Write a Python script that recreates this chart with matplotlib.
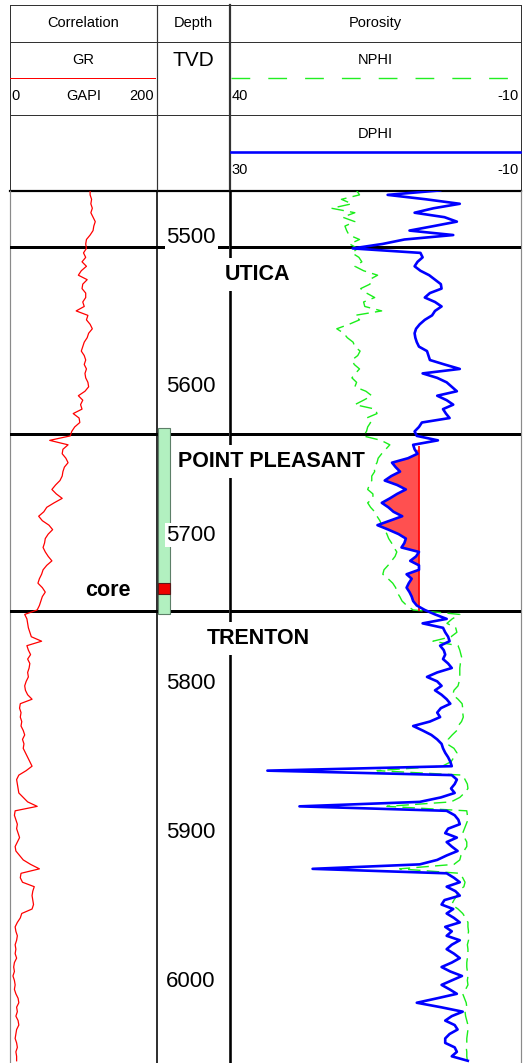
import numpy as np
import matplotlib
matplotlib.use("Agg")
import matplotlib.pyplot as plt
from matplotlib.patches import Rectangle
from matplotlib.transforms import blended_transform_factory as blend

plt.rcParams['font.family'] = ['Liberation Sans', 'DejaVu Sans']

# ---------------------------------------------------------------- data
# log samples every 3 ft (TVD)
depth = np.arange(5470, 6056, 3)

gr = np.array([
    109, 109, 111, 110, 112, 110, 113, 116, 114, 113,
    109, 104, 103, 104, 100, 103, 98, 104, 97, 93,
    105, 99, 98, 103, 103, 99, 101, 90, 106, 104,
    109, 112, 107, 105, 101, 99, 97, 101, 103, 101,
    104, 102, 103, 106, 107, 102, 93, 99, 96, 98,
    86, 94, 95, 88, 84, 82, 54, 79, 72, 71,
    76, 79, 74, 72, 71, 68, 62, 57, 63, 71,
    60, 50, 46, 39, 44, 53, 58, 52, 48, 47,
    45, 48, 52, 57, 50, 45, 43, 40, 38, 44,
    48, 44, 42, 40, 37, 20, 23, 24, 25, 27,
    29, 43, 23, 25, 28, 24, 27, 26, 24, 25,
    22, 20, 21, 24, 30, 14, 13, 15, 14, 16,
    15, 18, 20, 17, 19, 18, 21, 24, 27, 30,
    22, 12, 9, 10, 11, 12, 18, 24, 37, 7,
    6, 8, 10, 9, 11, 13, 10, 7, 8, 13,
    18, 28, 40, 15, 14, 17, 33, 31, 30, 31,
    32, 30, 16, 14, 10, 7, 8, 10, 9, 7,
    8, 7, 9, 6, 5, 6, 4, 6, 7, 6,
    8, 11, 12, 9, 10, 8, 11, 12, 9, 8,
    7, 9, 10, 8, 9, 9,
])

nphi = np.array([
    18.2, 17.7, 20.8, 19.0, 22.5, 18.5, 20.6, 18.5, 20.2, 19.9,
    19.5, 17.7, 19.4, 18.0, 19.0, 17.8, 17.3, 18.5, 17.0, 14.6,
    16.0, 15.9, 17.5, 16.5, 15.1, 17.0, 16.8, 13.9, 18.5, 17.7,
    19.5, 21.6, 20.4, 19.8, 18.8, 18.5, 17.6, 18.0, 19.0, 18.6,
    17.7, 18.4, 19.0, 18.2, 18.5, 16.6, 15.6, 17.0, 18.5, 15.0,
    14.7, 16.5, 15.8, 16.3, 16.5, 17.1, 14.0, 12.5, 13.2, 13.9,
    14.5, 14.7, 15.2, 15.1, 15.6, 15.6, 16.0, 16.3, 15.4, 15.4,
    16.3, 15.8, 15.1, 14.7, 14.2, 13.9, 13.4, 13.0, 12.7, 12.2,
    11.8, 11.3, 11.6, 12.2, 12.8, 13.5, 13.7, 12.8, 12.0, 11.5,
    11.3, 10.8, 10.4, 9.6, 8.5, 0.5, 1.8, 2.7, 1.2, 1.0,
    2.0, 5.1, 0.8, 0.5, 0.3, 0.1, 0.4, 0.5, 0.5, 0.5,
    0.6, 0.8, 1.5, 1.7, 0.8, 0.1, 0.0, 0.0, -0.1, 0.2,
    0.8, 1.0, 1.8, 2.5, 2.7, 1.5, 1.0, 1.5, 2.0, 3.5,
    14.7, 0.0, -0.4, -0.8, -0.9, -0.3, 0.5, 2.0, 13.0, -0.7,
    -0.8, -0.9, -0.6, -0.3, 0.0, -0.3, -0.7, -0.7, -0.2, 0.3,
    0.5, 1.5, 10.8, 0.5, 0.0, -0.4, -0.2, 0.8, 1.0, 1.5,
    1.9, 0.8, 0.0, -0.5, -0.9, -0.9, -1.0, -0.9, -1.0, -0.8,
    -0.9, -0.9, -0.8, -0.7, -0.7, -0.8, -0.9, -0.8, -0.9, -0.5,
    0.0, -0.3, -0.6, -0.7, -0.4, -0.5, -0.7, -0.9, -0.9, -0.8,
    -0.7, -0.7, -0.6, -0.7, -0.7, -0.8,
])

dphi = np.array([
    1.1, 8.3, 3.0, -1.6, 2.0, 4.6, 0.5, -1.2, 2.0, 5.3,
    -0.7, 6.0, 9.0, 13.1, 3.8, 3.5, 4.2, 4.6, 3.8, 2.6,
    1.8, 1.0, 0.9, 2.5, 3.2, 1.8, 0.9, 1.8, 2.2, 3.2,
    3.9, 4.4, 4.6, 4.5, 4.3, 4.0, 2.9, 2.7, 2.5, 0.5,
    -1.6, 3.5, 1.5, 0.2, -0.5, -1.2, 1.5, 0.2, -0.7, 0.7,
    0.3, -0.2, 3.6, 4.0, 4.6, 4.3, 1.4, 4.8, 4.6, 4.2,
    5.5, 7.7, 7.2, 6.6, 7.8, 8.7, 7.0, 5.8, 7.0, 8.0,
    9.1, 8.2, 7.5, 6.3, 8.0, 9.7, 8.2, 6.8, 5.8, 6.0,
    6.4, 4.0, 4.4, 5.2, 4.0, 4.0, 5.7, 5.0, 5.4, 5.7,
    5.3, 5.0, 4.8, 4.3, 3.2, 1.8, 0.2, 3.5, 0.7, 0.4,
    0.0, -0.2, 1.1, 0.6, 0.4, 0.7, 0.0, -0.5, 1.5, 2.9,
    1.5, 0.9, 1.8, 0.9, 0.2, -0.3, 1.0, 1.5, 1.1, 2.5,
    4.8, 3.5, 2.3, 1.5, 0.9, 0.7, 0.4, 0.0, -0.3, -0.5,
    24.8, -0.5, -1.2, -0.9, -0.4, -0.9, 1.0, 3.9, 20.4, 0.2,
    -0.9, -1.4, -1.6, 0.0, 0.4, -1.2, 0.2, -0.5, -1.3, 0.2,
    1.5, 3.9, 18.6, 0.2, -0.8, -1.6, 0.2, -1.0, -1.6, 0.5,
    0.9, -0.7, 0.2, -0.8, -1.6, 0.4, -0.5, 0.2, -1.6, -0.5,
    0.2, -0.8, -1.6, -0.5, 0.9, -0.3, -1.9, -0.5, 0.9, -0.2,
    -1.2, 1.5, 4.3, 1.0, -2.0, -0.5, 0.4, -0.9, -1.3, -0.2,
    0.4, 0.4, -0.9, -1.2, -0.5, -2.7,
])

tops_names = ['UTICA', 'POINT PLEASANT', 'TRENTON']
tops_depth = [5508, 5634, 5753]
depth_labels = [5500, 5600, 5700, 5800, 5900, 6000]
core_interval = (5630, 5755)
core_sample = (5734, 5741)
pay_interval = (5642, 5753)
dphi_cutoff = 4.0

gr_scale = (0, 200)
nphi_scale = (40, -10)
dphi_scale = (30, -10)
depth_window = (6056.5, 5470.2)

# ---------------------------------------------------------------- layout (pixels)
W, H = 531, 1063
X_L, X_GR, X_DEP, X_R = 10, 157, 229.5, 521
Y_TOP, Y_R1, Y_R2, Y_LOG = 5, 41.7, 115, 190.7
PT = 0.72  # points per pixel at 100 dpi

fig = plt.figure(figsize=(W / 100, H / 100), dpi=100)
fig.patch.set_facecolor('white')

frame = fig.add_axes([0, 0, 1, 1], zorder=0)
frame.set_xlim(0, W)
frame.set_ylim(H, 0)
frame.set_axis_off()


def track(x0, x1):
    ax = fig.add_axes([x0 / W, 0, (x1 - x0) / W, (H - Y_LOG) / H], zorder=1)
    ax.set_ylim(*depth_window)
    ax.set_facecolor('none')
    ax.set_axis_off()
    return ax


ax_gr = track(X_L, X_GR)
ax_dep = track(X_GR, X_DEP)
ax_por = track(X_DEP, X_R)
ax_gr.set_xlim(*gr_scale)
ax_dep.set_xlim(0, 1)
ax_por.set_xlim(*nphi_scale)
ax_dphi = ax_por.twiny()
ax_dphi.set_xlim(*dphi_scale)
ax_dphi.set_ylim(*depth_window)
ax_dphi.set_axis_off()

# ---------------------------------------------------------------- frame lines
dark = '#333333'
for y in (Y_TOP, Y_R1, Y_R2):
    frame.plot([X_L, X_R], [y, y], color=dark, lw=1.0 * PT)
frame.plot([X_L, X_R], [Y_LOG, Y_LOG], color='black', lw=2.2 * PT)
for x, lw in ((X_L, 1.0), (X_GR, 1.2), (X_DEP, 2.2), (X_R, 1.0)):
    frame.plot([x, x], [Y_TOP, Y_LOG], color=dark, lw=lw * PT)
frame.plot([X_L, X_L], [Y_LOG, H], color='#8a8a8a', lw=1.2 * PT)
frame.plot([X_R, X_R], [Y_LOG, H], color='#8a8a8a', lw=1.2 * PT)
frame.plot([X_GR, X_GR], [Y_LOG, H], color='black', lw=1.6 * PT)
frame.plot([X_DEP, X_DEP], [Y_LOG, H], color='black', lw=2.6 * PT)

# ---------------------------------------------------------------- header
hdr = dict(fontsize=10.5, color='black', va='center_baseline')
frame.text((X_L + X_GR) / 2, 21.5, 'Correlation', ha='center', **hdr)
frame.text((X_GR + X_DEP) / 2, 21.5, 'Depth', ha='center', **hdr)
frame.text((X_DEP + X_R) / 2, 21.5, 'Porosity', ha='center', **hdr)

frame.text((X_L + X_GR) / 2, 59, 'GR', ha='center', **hdr)
frame.plot([X_L, X_GR - 2], [78.3, 78.3], color='red', lw=1.0 * PT)
frame.text(X_L + 1, 95, f'{gr_scale[0]}', ha='left', **hdr)
frame.text((X_L + X_GR) / 2, 95, 'GAPI', ha='center', **hdr)
frame.text(X_GR - 3, 95, f'{gr_scale[1]}', ha='right', **hdr)

frame.text((X_GR + X_DEP) / 2, 58.5, 'TVD', ha='center', fontsize=15,
           va='center_baseline')

frame.text((X_DEP + X_R) / 2, 59, 'NPHI', ha='center', **hdr)
frame.plot([X_DEP + 1.5, X_R - 1], [78.3, 78.3], color='#22ee22', lw=1.0,
           dashes=(13.5, 13))
frame.text(X_DEP + 2, 95, f'{nphi_scale[0]}', ha='left', **hdr)
frame.text(X_R - 2, 95, f'{nphi_scale[1]}', ha='right', **hdr)

frame.text((X_DEP + X_R) / 2, 132.5, 'DPHI', ha='center', **hdr)
frame.plot([X_DEP + 1.5, X_R - 1], [152, 152], color='blue', lw=2.6 * PT)
frame.text(X_DEP + 2, 169, f'{dphi_scale[0]}', ha='left', **hdr)
frame.text(X_R - 2, 169, f'{dphi_scale[1]}', ha='right', **hdr)

# ---------------------------------------------------------------- formation tops
for ax in (ax_gr, ax_dep, ax_por):
    for t in tops_depth:
        ax.axhline(t, color='black', lw=3.0 * PT, zorder=0.5)

px_depth = blend(frame.transData, ax_dep.transData)
label_x = [257, 271, 258]
for name, t, xc in zip(tops_names, tops_depth, label_x):
    frame.annotate(name, xy=(xc, t), xycoords=px_depth,
                   xytext=(0, -18), textcoords='offset points',
                   ha='center', va='center_baseline', fontsize=15.5,
                   fontweight='bold', zorder=5,
                   bbox=dict(boxstyle='square,pad=0.28', fc='white', ec='none'))

# ---------------------------------------------------------------- core
dep_tr = blend(ax_dep.transAxes, ax_dep.transData)
ax_dep.add_patch(Rectangle((0.01, core_interval[0]), 0.17,
                           core_interval[1] - core_interval[0],
                           transform=dep_tr, fc='#b2f0c0', ec='#5d7f68',
                           lw=0.8, zorder=2))
ax_dep.add_patch(Rectangle((0.01, core_sample[0]), 0.17,
                           core_sample[1] - core_sample[0],
                           transform=dep_tr, fc='#ee0000', ec='#5a1a1a',
                           lw=0.8, zorder=3))
frame.annotate('core', xy=(131, sum(core_sample) / 2), xycoords=px_depth,
               ha='right', va='center_baseline', fontsize=15.5,
               fontweight='bold', zorder=5)

# ---------------------------------------------------------------- depth labels
for d in depth_labels:
    ax_dep.annotate(f'{d}', xy=(0.47, d), xycoords=dep_tr,
                    ha='center', va='center_baseline', fontsize=16,
                    zorder=4, annotation_clip=False,
                    bbox=dict(boxstyle='square,pad=0.08', fc='white', ec='none'))

# ---------------------------------------------------------------- curves
ax_gr.plot(gr, depth, color='red', lw=0.9)

ax_por.plot(nphi, depth, color='#1aee1a', lw=1.0, dashes=(9, 4.5), zorder=2)

in_pay = (depth >= pay_interval[0]) & (depth <= pay_interval[1])
ax_dphi.fill_betweenx(depth, dphi, dphi_cutoff,
                      where=in_pay & (dphi >= dphi_cutoff),
                      interpolate=True, color='#ff5050', lw=0, zorder=1)
ax_dphi.vlines(dphi_cutoff, pay_interval[0], pay_interval[1],
               color='red', lw=1.2, zorder=1.5)
ax_dphi.plot(dphi, depth, color='blue', lw=1.9, zorder=2)

fig.savefig('out.png', dpi=100, facecolor='white')
